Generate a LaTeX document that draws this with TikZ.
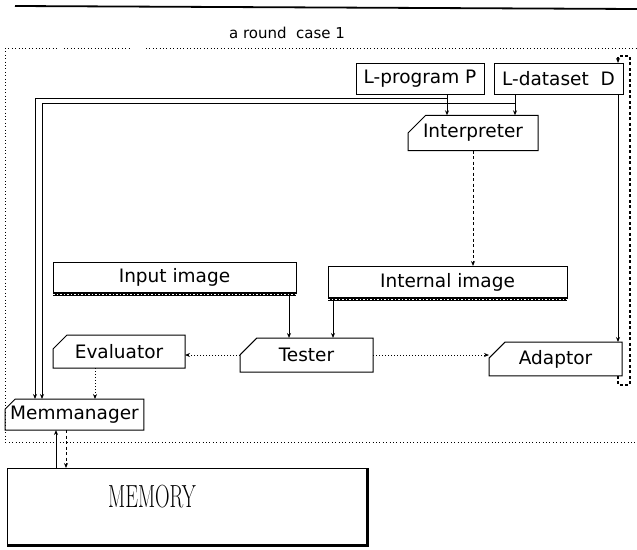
\documentclass[tikz,border=0pt]{standalone}
\usepackage{fontspec}
\usepackage{graphicx}
\setsansfont{DejaVu Sans}
\usetikzlibrary{shapes.misc,arrows.meta}

\begin{document}
\begin{tikzpicture}[x=1pt,y=-1pt,
  every node/.style={inner sep=0pt,outer sep=0pt},
  lbl/.style={font=\sffamily\fontsize{18.5}{18.5}\selectfont},
  box/.style={lbl,draw,line width=1pt,rectangle},
  chbox/.style={lbl,draw,line width=1pt,chamfered rectangle,
    chamfered rectangle corners=north west,chamfered rectangle sep=#1},
  arr/.style={-{Stealth[length=5pt,width=4pt]},line width=1pt},
  dotarr/.style={arr,dotted},
  dasharr/.style={arr,dash pattern=on 3pt off 2.5pt},
  frame/.style={line width=0.8pt,dash pattern=on 0.8pt off 2.6pt}]
\useasboundingbox (0,0) rectangle (637,549);

% heading rule and title
\draw[line width=1.8pt] (15,6) -- (637,9);
\node[font=\sffamily\fontsize{15}{15}\selectfont] (title) at (287,33) {a round\ \ case 1};

% dotted frame of one round
\draw[frame] (5,48) -- (58,48);
\draw[frame] (64,48) -- (130,48);
\draw[frame] (146,48) -- (637,48);
\draw[frame] (5,48) -- (5,442) -- (637,442);

% inputs
\node[box,minimum width=128pt,minimum height=31pt] (Lprog) at (420,78.5) {L-program P};
\node[box,minimum width=129pt,minimum height=31pt] (Ldata) at (558.5,78.5) {L-dataset\ \ D};

% processing units
\node[chbox=9pt,minimum width=130pt,minimum height=32pt] (Interp) at (473,133) {Interpreter};
\node[box,minimum width=239pt,minimum height=32pt] (IntImg) at (447.5,282) {Internal image};
\node[box,minimum width=243pt,minimum height=31pt] (InImg) at (174.5,277.5) {Input image};
\node[chbox=10pt,minimum width=133pt,minimum height=34pt] (Tester) at (306.5,355) {Tester};
\node[chbox=7pt,minimum width=132pt,minimum height=33pt] (Eval) at (119,351.5) {Evaluator};
\node[chbox=8pt,minimum width=133pt,minimum height=32pt] (Adapt) at (555.5,359) {Adaptor};
\node[chbox=5pt,minimum width=135pt,minimum height=31pt] (Mem) at (74.5,414.5) {Memmanager};

% image boxes have a hatched lower edge
\foreach \n in {InImg,IntImg}{
  \draw[line width=3.5pt] ([yshift=-1.2pt]\n.south west) -- ([yshift=-1.2pt]\n.south east);
  \draw[white,line width=0.8pt,dash pattern=on 1.5pt off 2pt]
    ([yshift=-1.2pt]\n.south west) -- ([yshift=-1.2pt]\n.south east);
}

% memory block with heavy lower right edges
\node[draw,line width=0.8pt,minimum width=361pt,minimum height=78pt] (Memory) at (187.5,507) {};
\draw[line width=3pt] ([xshift=-1pt]Memory.north east) -- ([xshift=-1pt]Memory.south east);
\draw[line width=2pt] ([yshift=1pt]Memory.south west) -- ([yshift=1pt]Memory.south east);
\node (MemLbl) at (152,497) {\scalebox{0.63}[1]{\rmfamily\fontsize{32}{32}\selectfont MEMORY}};

% bend points of the connectors
\coordinate (b1) at (447,98);
\coordinate (b2) at (515,103);
\coordinate (m1) at (35,0);
\coordinate (m2) at (42,0);
\coordinate (t1) at (289,0);
\coordinate (t2) at (333,0);
\coordinate (r1) at (618,0);
\coordinate (e1) at (95,0);
\coordinate (k1) at (56,0);
\coordinate (k2) at (66,0);
\coordinate (q1) at (630,385);
\coordinate (q2) at (630,56);

% program and dataset feed the interpreter and the memory manager
\draw[arr] (Lprog.south -| b1) -- (Interp.north -| b1);
\draw[arr] (Ldata.south -| b2) -- (Interp.north -| b2);
\draw[arr] (Lprog.south -| b1) -- (b1) -| (Mem.north -| m1);
\draw[arr] (Ldata.south -| b2) -- (b2) -| (Mem.north -| m2);

% interpreter output and test
\draw[dasharr] (Interp.south) -- (IntImg.north -| Interp.south);
\draw[arr] (InImg.south -| t1) -- (Tester.north -| t1);
\draw[arr] (IntImg.south -| t2) -- (Tester.north -| t2);
\draw[dotarr] (Tester.west) -- (Tester.west -| Eval.east);
\draw[dotarr] (Tester.east) -- (Tester.east -| Adapt.west);
\draw[dotarr] (Eval.south -| e1) -- (Mem.north -| e1);

% dataset adaptation loop
\draw[arr] (Ldata.south -| r1) -- (Adapt.north -| r1);
\draw[dasharr,line width=1.4pt] (Adapt.south -| r1) |- (q1) -- (q2) -| (Ldata.north -| r1);

% memory traffic
\draw[arr] (Memory.north -| k1) -- (Mem.south -| k1);
\draw[dasharr] (Mem.south -| k2) -- (Memory.north -| k2);
\end{tikzpicture}
\end{document}
